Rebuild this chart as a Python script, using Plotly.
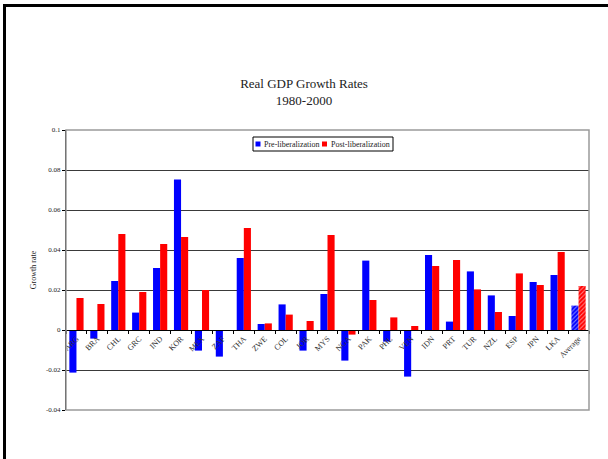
import plotly.graph_objects as go

categories = ["ARG", "BRA", "CHL", "GRC", "IND", "KOR", "MEX", "ZAF", "THA", "ZWE",
              "COL", "JOR", "MYS", "NGA", "PAK", "PHL", "VEN", "IDN", "PRT", "TUR",
              "NZL", "ESP", "JPN", "LKA", "Average"]
pre_lib = [-0.0213, -0.0043, 0.0245, 0.0087, 0.031, 0.0753, -0.0103, -0.0133, 0.036, 0.003,
           0.0128, -0.0103, 0.018, -0.0153, 0.0347, -0.0058, -0.0233, 0.0375, 0.0042, 0.0293,
           0.0173, 0.007, 0.024, 0.0275, 0.0122]
post_lib = [0.016, 0.013, 0.048, 0.019, 0.043, 0.0465, 0.020, -0.0005, 0.051, 0.0033,
            0.0077, 0.0045, 0.0475, -0.0023, 0.015, 0.0063, 0.002, 0.032, 0.035, 0.0203,
            0.009, 0.0283, 0.0225, 0.039, 0.022]
series_names = ["Pre-liberalization", "Post-liberalization"]
y_tickvals = [0.1, 0.08, 0.06, 0.04, 0.02, 0, -0.02, -0.04]
y_ticktext = ["0.1", "0.08", "0.06", "0.04", "0.02", "0", "-0.02", "-0.04"]

serif = "Liberation Serif, Times New Roman, serif"
colors = ["#0000FF", "#FF0000"]
patterns = ["" for _ in categories[:-1]] + ["/"]

W, H = 608, 459
L, R, T, B = 66, 19, 130, 49
PW, PH = W - L - R, H - T - B


def px(x):
    return (x - L) / PW


def py(y):
    return (H - B - y) / PH


fig = go.Figure()
for name, vals, col in zip(series_names, [pre_lib, post_lib], colors):
    fig.add_trace(go.Bar(
        x=categories, y=vals, name=name, showlegend=False,
        marker=dict(color=col, line=dict(width=0),
                    pattern=dict(shape=patterns, fgcolor="white", size=3, solidity=0.35)),
    ))

ymin, ymax = -0.04, 0.1
zero_pos = (0 - ymin) / (ymax - ymin)

shapes = [
    dict(type="rect", xref="paper", yref="paper", x0=0, x1=1, y0=0, y1=1,
         line=dict(color="#9a9a9a", width=1.5), layer="above"),
    dict(type="rect", xref="paper", yref="paper", x0=px(4.5), x1=px(615),
         y0=py(475), y1=py(5.5), line=dict(color="black", width=3), layer="above"),
    # legend box
    dict(type="rect", xref="paper", yref="paper", x0=px(253), x1=px(393),
         y0=py(151), y1=py(137), line=dict(color="black", width=1),
         fillcolor="white", layer="above"),
]
annotations = []
leg_sym_x = [255.5, 322]
leg_txt_x = [262, 329]
for name, col, sx, tx in zip(series_names, colors, leg_sym_x, leg_txt_x):
    shapes.append(dict(type="rect", xref="paper", yref="paper", x0=px(sx), x1=px(sx + 5),
                       y0=py(146.5), y1=py(141.5), line=dict(width=0), fillcolor=col,
                       layer="above"))
    annotations.append(dict(text=name, xref="paper", yref="paper", x=px(tx), y=py(144),
                            xanchor="left", yanchor="middle", showarrow=False,
                            font=dict(family=serif, size=8, color="#222")))

fig.update_layout(
    width=W, height=H,
    margin=dict(l=L, r=R, t=T, b=B),
    paper_bgcolor="white", plot_bgcolor="white",
    barmode="group", bargap=0.32, bargroupgap=0,
    font=dict(family=serif, color="#222"),
    title=dict(text="Real GDP Growth Rates<br>1980-2000", x=0.5, xref="container",
               xanchor="center", y=1 - 88 / H, yref="container", yanchor="middle",
               font=dict(family=serif, size=13, color="#222")),
    showlegend=False,
    xaxis=dict(anchor="free", position=zero_pos, showline=True, linecolor="black",
               linewidth=1, ticks="outside", ticklen=3, tickcolor="black",
               tickson="boundaries", tickangle=-45,
               tickfont=dict(family=serif, size=8, color="#333"), showgrid=False),
    yaxis=dict(range=[ymin, ymax], tickvals=y_tickvals, ticktext=y_ticktext,
               showline=True, linecolor="black", linewidth=1, ticks="outside",
               ticklen=3, tickcolor="black", showgrid=True, gridcolor="#3a3a3a",
               gridwidth=1, zeroline=False,
               tickfont=dict(family=serif, size=7, color="#222"),
               title=dict(text="Growth rate", font=dict(family=serif, size=8, color="#222"),
                          standoff=8)),
    shapes=shapes,
    annotations=annotations,
)

fig.write_html("out.html", config={"displayModeBar": False},
               post_script="document.body.style.margin='0';")
